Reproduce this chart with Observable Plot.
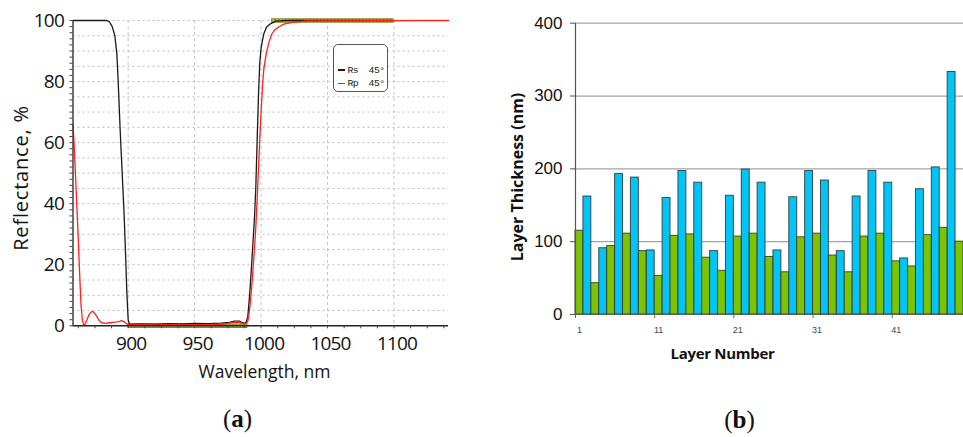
<!DOCTYPE html>
<html><head><meta charset="utf-8">
<script src="https://cdn.jsdelivr.net/npm/d3@7"></script>
<script src="https://cdn.jsdelivr.net/npm/@observablehq/plot@0.6"></script>
<style>
body{margin:0;background:#fff;}
#fig{position:relative;width:963px;height:437px;overflow:hidden;background:#fff;}
#fig svg{position:absolute;top:0;}
.t{position:absolute;white-space:nowrap;line-height:1;transform:translate(-50%,-50%);color:#111;}
.rot{transform:translate(-50%,-50%) rotate(-90deg);}
#legend{position:absolute;left:333px;top:44px;width:53px;height:46px;border:1.6px solid #555;border-radius:5px;background:#fff;font-family:"Liberation Mono","DejaVu Sans Mono",monospace;font-size:9.8px;letter-spacing:-0.6px;color:#1a1a1a;overflow:visible;}
#legend .row{position:absolute;left:4px;display:flex;align-items:center;white-space:pre;}
#legend .sw{width:7px;height:1.6px;margin-right:2.5px;}
</style></head><body><div id="fig"></div><script>
// ---------- Panel (a): reflectance spectra ----------
const rsWavelength = [858.5,870,880,884,886,888,890,891.5,892.5,894,895.5,897,898,899,900,901,910,920,930,940,950,960,970,976,980,984,986,988,989,990,991,992,993,994,995,996,997,998,999,1000,1002,1004,1007,1011,1020,1100];
const rsReflect   = [100,100,100,100,99.5,98,95,89,80,64,50,36,24,11,2,0.5,0.6,0.5,0.7,0.6,0.8,0.7,0.9,1.1,1.5,1.5,1.0,0.8,1.5,3,8,14,21,28,35,45,60,75,86,91,95.6,97.8,98.9,99.8,100,100];
const rpWavelength = [858.5,859.5,860.5,861.5,862.5,863.5,864.5,865.5,866.5,867.5,869,870.5,872,873.5,875,876.5,878,880,883,886,890,893,895,897,899,901,910,920,930,940,950,960,970,976,980,984,987,989,990,991,992,993,994,995,996,997,998,999,1000,1001,1002,1004,1006,1008,1010,1013,1017,1024,1035,1141];
const rpReflect   = [66,58,48,38,28,17,7,2,0.3,0.5,2,3.6,4.5,4.7,4,3,1.8,1,0.8,1.0,1.2,1.4,1.7,1.3,0.6,0.3,0.4,0.3,0.4,0.3,0.4,0.4,0.5,0.9,1.2,1.1,0.6,0.8,1.5,4,8,13,19,25,32,41,51,61,70,78,84,89.5,93,95.5,96.8,97.8,98.8,99.4,99.9,100];
const targetFrom  = [900, 1008];
const targetTo    = [990, 1100];
const targetValue = [0, 100];
const wlTicks     = [900, 950, 1000, 1050, 1100];
const wlMinorTicks = [862.5,875,887.5,900,912.5,925,937.5,950,962.5,975,987.5,1000,1012.5,1025,1037.5,1050,1062.5,1075,1087.5,1100,1112.5,1125,1137.5];
const reflTicks   = [0, 20, 40, 60, 80, 100];
const reflGrid    = [5,10,15,20,25,30,35,40,45,50,55,60,65,70,75,80,85,90,95,100];
const reflMinorTicks = [0,2,4,6,8,10,12,14,16,18,20,22,24,26,28,30,32,34,36,38,40,42,44,46,48,50,52,54,56,58,60,62,64,66,68,70,72,74,76,78,80,82,84,86,88,90,92,94,96,98,100];
const wlDomain = [858.5, 1141];

// ---------- Panel (b): layer thickness ----------
const layerNumbers = Array.from({length: 49}, (_, i) => i + 1);
const layerThickness = [115,162,43,91,94,193,111,188,87,88,53,160,108,197,110,181,78,87,60,163,107,199,111,181,79,88,58,161,106,197,111,184,81,87,58,162,107,197,111,181,73,77,66,172,109,202,119,333,100];
const layerTicks = [1, 11, 21, 31, 41];
const thickTicks = [0, 100, 200, 300, 400];
const thickGrid = [100, 200, 300, 400];

const rs = rsWavelength.map((w, i) => ({w, r: rsReflect[i]}));
const rp = rpWavelength.map((w, i) => ({w, r: rpReflect[i]}));
const targets = targetFrom.map((f, i) => ({from: f, to: targetTo[i], v: targetValue[i]}));
const layers = layerNumbers.map((n, i) => ({n, t: layerThickness[i], mat: n % 2 === 1 ? "L" : "H"}));

const fig = document.getElementById("fig");

const plotA = Plot.plot({
  width: 460, height: 390,
  marginLeft: 72.5, marginRight: 12, marginTop: 20, marginBottom: 64.7,
  style: {fontFamily: "'Open Sans', sans-serif", fontSize: "19px", letterSpacing: "-0.8px", color: "#111", background: "transparent", overflow: "visible"},
  x: {domain: wlDomain},
  y: {domain: [0, 100]},
  marks: [
    Plot.ruleY(reflGrid, {stroke: "#bdbdbd", strokeDasharray: "2,3", strokeWidth: 1}),
    Plot.ruleX(wlTicks, {stroke: "#c4c4c4", strokeDasharray: "3,3", strokeWidth: 1}),
    Plot.ruleY(targets, {y: "v", x1: "from", x2: "to", stroke: "#8a8a1a", strokeWidth: 4.5}),
    Plot.ruleY(targets, {y: "v", x1: "from", x2: "to", stroke: "#c6c640", strokeWidth: 2.5}),
    Plot.ruleY(targets, {y: "v", x1: "from", x2: "to", stroke: "#3c3c08", strokeWidth: 3, strokeDasharray: "1,2.5", strokeOpacity: 0.5}),
    Plot.line(rs, {x: "w", y: "r", stroke: "#1a1a1a", strokeWidth: 1.3}),
    Plot.line(rp, {x: "w", y: "r", stroke: "#ff2020", strokeWidth: 1.3}),
    Plot.ruleX([wlDomain[0]], {stroke: "#333", strokeWidth: 1.4}),
    Plot.ruleY([0], {stroke: "#222", strokeWidth: 1.4}),
    Plot.axisY({ticks: reflMinorTicks, tickSize: 3, tickFormat: () => "", label: null, stroke: "#444"}),
    Plot.axisX({ticks: wlMinorTicks, tickSize: 3, tickFormat: () => "", label: null, stroke: "#444"}),
    Plot.axisY({ticks: reflTicks, tickSize: 0, tickPadding: 9, tickFormat: d => String(d), label: null}),
    Plot.axisX({ticks: wlTicks, tickSize: 0, tickPadding: 11, dx: 3, tickFormat: d => String(d), label: null})
  ]
});
plotA.style.left = "0px";
fig.appendChild(plotA);

const plotWidthB = 463, marginLeftB = 75, marginRightB = 0;
const bw = (plotWidthB - marginLeftB - marginRightB) / layerNumbers.length;

const plotB = Plot.plot({
  width: plotWidthB, height: 390,
  marginLeft: marginLeftB, marginRight: marginRightB, marginTop: 22.7, marginBottom: 76,
  style: {fontFamily: "'Liberation Sans', Arial, sans-serif", fontSize: "17px", color: "#111", background: "transparent", overflow: "visible"},
  x: {type: "band", domain: layerNumbers, padding: 0},
  y: {domain: [0, 400]},
  color: {domain: ["L", "H"], range: ["#7dc400", "#00c5f6"]},
  marks: [
    Plot.ruleY(thickGrid, {stroke: "#a3a3a3", strokeWidth: 1.3}),
    Plot.ruleY([0], {stroke: "#888", strokeWidth: 1}),
    Plot.barY(layers, {x: "n", y: "t", fill: "mat", stroke: "#333", strokeWidth: 1, strokeOpacity: 0.85}),
    Plot.ruleX([layerNumbers[0]], {dx: -bw / 2, stroke: "#555", strokeWidth: 1.2}),
    Plot.axisY({ticks: thickTicks, tickSize: 5, tickPadding: 8, label: null, stroke: "#555"}),
    Plot.axisX({ticks: layerTicks, tickSize: 4, tickFormat: () => "", dx: -bw / 2, label: null, stroke: "#666"}),
    Plot.axisX({ticks: layerTicks, tickSize: 0, tickPadding: 12, fontSize: 9, fill: "#444", label: null})
  ]
});
plotB.style.left = "500px";
fig.appendChild(plotB);

// ---------- Titles, legend, captions ----------
function addText(txt, x, y, css, cls) {
  const d = document.createElement("div");
  d.className = "t" + (cls ? " " + cls : "");
  d.textContent = txt;
  d.style.left = x + "px"; d.style.top = y + "px";
  Object.assign(d.style, css || {});
  fig.appendChild(d);
  return d;
}
addText("Reflectance, %", 20.5, 178, {fontFamily: "'Open Sans', sans-serif", fontSize: "20px", letterSpacing: "0.8px"}, "rot");
addText("Wavelength, nm", 264.5, 372, {fontFamily: "'Open Sans', sans-serif", fontSize: "17.5px", letterSpacing: "0px"});
addText("Layer Thickness (nm)", 516.5, 177, {fontFamily: "'Open Sans', sans-serif", fontSize: "16px", fontWeight: "700"}, "rot");
addText("Layer Number", 722.5, 352.5, {fontFamily: "'Open Sans', sans-serif", fontSize: "15px", fontWeight: "700", letterSpacing: "-0.3px"});

const capA = addText("", 237.5, 418, {fontFamily: "'Liberation Serif', 'DejaVu Serif', serif", fontSize: "25px"});
capA.innerHTML = "(<b>a</b>)";
const capB = addText("", 739.5, 418.5, {fontFamily: "'Liberation Serif', 'DejaVu Serif', serif", fontSize: "25px"});
capB.innerHTML = "(<b>b</b>)";

const legend = document.createElement("div");
legend.id = "legend";
const legendItems = [{label: "Rs  45°", color: "#1a1a1a"}, {label: "Rp  45°", color: "#ff2020"}];
legendItems.forEach((it, i) => {
  const row = document.createElement("div");
  row.className = "row";
  row.style.top = (i === 0 ? 19.5 : 33) + "px";
  const sw = document.createElement("span"); sw.className = "sw"; sw.style.background = it.color;
  const tx = document.createElement("span"); tx.textContent = it.label;
  row.appendChild(sw); row.appendChild(tx);
  legend.appendChild(row);
});
fig.appendChild(legend);
</script></body></html>
